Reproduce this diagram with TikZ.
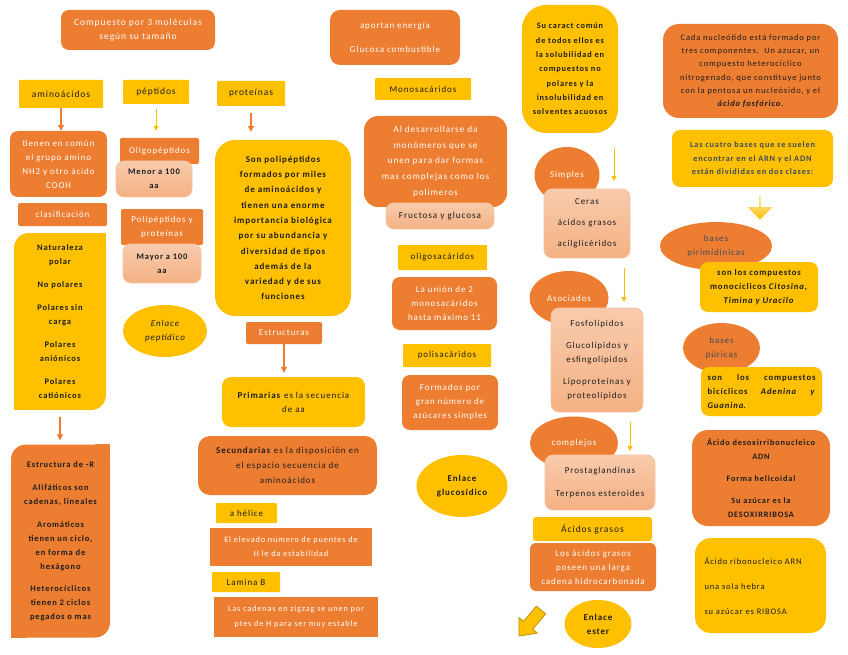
\documentclass[tikz,border=0pt]{standalone}
\usepackage{fontspec}
\setmainfont{Carlito}[LetterSpace=10]
\usetikzlibrary{positioning,arrows.meta,shapes.geometric,shapes.arrows}

\definecolor{naranja}{HTML}{ED7D31}
\definecolor{amarillo}{HTML}{FFC000}
\definecolor{salmon}{HTML}{F4B183}
\definecolor{salmonclaro}{HTML}{F8CBAD}
\definecolor{oscuro}{HTML}{1E1E1E}
\definecolor{pizarra}{HTML}{3E4B5C}
\definecolor{oro}{HTML}{BF9000}

\begin{document}
\begin{tikzpicture}[
    x=1pt, y=-1pt,
    font=\fontsize{9}{14}\selectfont,
    fnt/.style 2 args={font=\fontsize{#1}{#2}\selectfont},
    bfnt/.style 2 args={font=\fontsize{#1}{#2}\selectfont\bfseries},
    sz/.style 2 args={minimum width=#1, minimum height=#2},
    obox/.style={fill=naranja, text=white, rounded corners=8pt, align=center, inner sep=2pt},
    ybox/.style={fill=amarillo, text=oscuro, rounded corners=8pt, align=center, inner sep=2pt},
    sbox/.style={top color=salmonclaro, bottom color=salmon, draw=naranja!45, line width=0.8pt, rounded corners=8pt, align=center, text=oscuro, inner sep=2pt},
    tag/.style={fill=amarillo, text=oscuro, rounded corners=1pt, align=center, inner sep=2pt},
    otag/.style={fill=naranja, text=white, rounded corners=2pt, align=center, inner sep=2pt},
    bubble/.style={ellipse, fill=naranja, text=white, inner sep=0pt, align=center},
    oval/.style={ellipse, fill=amarillo, text=oscuro, inner sep=0pt, align=center},
    oarr/.style={-{Triangle[length=6pt,width=6pt]}, naranja, line width=1.3pt},
    yarr/.style={-{Triangle[length=5pt,width=5pt]}, amarillo, line width=1pt},
    bigarr/.style={single arrow, fill=amarillo, single arrow head extend=3pt, inner sep=0pt}
  ]
    \path[use as bounding box, fill=white] (0,0) rectangle (848,655);

    % aminoacidos
    \node[obox, sz={154}{40}, fnt={9.5}{14}] (comp) at (138,30) {Compuesto por 3 moléculas\\según su tamaño};
    \node[tag, sz={84}{28}, fnt={9.5}{14}] (amino) at (61,94) {aminoácidos};
    \node[obox, sz={97}{66}] (comun) at (58.5,164) {tienen en común\\el grupo amino\\NH2 y otro ácido\\COOH};
    \node[otag, sz={89}{23}] (clasif) at (62.5,214.5) {clasificación};
    \node[ybox, sz={92}{177}, rounded corners=15pt, bfnt={8.5}{14}] (polar) at (60,321.5) {Naturaleza\\polar\\[9pt]No polares\\[9pt]Polares sin\\carga\\[9pt]Polares\\aniónicos\\[9pt]Polares\\catiónicos};
    \fill[amarillo] (polar.north east) rectangle ++(-15,15);
    \fill[amarillo] (polar.south west) rectangle ++(15,-15);
    \node[obox, sz={99}{193}, text=oscuro, rounded corners=15pt, bfnt={8.5}{14}] (estR) at (60.5,541) {Estructura de -R\\[9pt]Alifáticos son\\cadenas, lineales\\[9pt]Aromáticos\\tienen un ciclo,\\en forma de\\hexágono\\[8pt]Heterocíclicos\\tienen 2 ciclos\\pegados o mas};
    \fill[naranja] (estR.north east) rectangle ++(-15,15);
    \fill[naranja] (estR.south west) rectangle ++(15,-15);

    % peptidos
    \node[tag, sz={66}{24}, fnt={9.5}{14}] (pept) at (156,92) {péptidos};
    \node[otag, sz={79}{26}] (oligo) at (159.5,151) {Oligopéptidos};
    \node[sbox, sz={76}{36}, bfnt={8.5}{14}] (menor) at (154,179) {Menor a 100\\aa};
    \node[otag, sz={82}{36}] (polip) at (162,227) {Polipéptidos y\\proteínas};
    \node[sbox, sz={78}{39}, bfnt={8.5}{14}] (mayor) at (162,263.5) {Mayor a 100\\aa};
    \node[oval, sz={84}{52}, font=\fontsize{9}{14}\selectfont\itshape] (enlpep) at (165,331) {Enlace\\peptídico};

    % proteinas
    \node[tag, sz={68}{25}, fnt={9.5}{14}] (prot) at (251,93.5) {proteínas};
    \node[ybox, sz={136}{176}, rounded corners=20pt, bfnt={9}{15.3}] (son) at (283,228) {Son polipéptidos\\formados por miles\\de aminoácidos y\\tienen una enorme\\importancia biológica\\por su abundancia y\\diversidad de tipos\\además de la\\variedad y de sus\\funciones};
    \node[otag, sz={76}{22}] (estruct) at (284,333) {Estructuras};
    \node[ybox, sz={143}{50}, rounded corners=9pt] (prim) at (293.5,402) {\textbf{Primarias} es la secuencia\\de aa};
    \node[obox, sz={179}{59}, text=oscuro, rounded corners=12pt, fnt={9}{15}] (secund) at (287.5,465.5) {\textbf{Secundarias} es la disposición en\\el espacio secuencia de\\aminoácidos};
    \node[tag, sz={61}{20}] (hel) at (246.5,513) {a hélice};
    \node[otag, rounded corners=0pt, sz={162}{38}, fnt={8.3}{14}] (elev) at (291,547) {El elevado numero de puentes de\\H le da estabilidad};
    \node[tag, sz={68}{20}] (lam) at (246,582) {Lamina B};
    \node[otag, rounded corners=0pt, sz={164}{40}, fnt={8.3}{15}] (cad) at (296,617) {Las cadenas en zigzag se unen por\\ptes de H para ser muy estable};

    % glucidos
    \node[obox, sz={130}{55}, rounded corners=10pt] (aport) at (395,37.5) {aportan energía\\[10pt]Glucosa combustible};
    \node[tag, sz={96}{22}] (mono) at (423,89) {Monosacáridos};
    \node[obox, sz={143}{91}, rounded corners=14pt, fnt={9.2}{15.8}] (desarr) at (435.5,161.5) {Al desarrollarse da\\monómeros que se\\unen para dar formas\\mas complejas como los\\polímeros};
    \node[sbox, sz={108}{26}, fnt={9.2}{14}] (fruct) at (440,216) {Fructosa y glucosa};
    \node[tag, sz={89}{25}] (oligos) at (442.5,257.5) {oligosacáridos};
    \node[obox, sz={105}{53}] (union) at (444.5,303.5) {La unión de 2\\monosacáridos\\hasta máximo 11};
    \node[tag, sz={88}{23}] (polis) at (447,355.5) {polisacáridos};
    \node[obox, sz={96}{55}] (formad) at (450,402.5) {Formados por\\gran número de\\azúcares simples};
    \node[oval, sz={91}{62}, bfnt={9}{14}] (enlgluc) at (462,486) {Enlace\\glucosídico};

    % lipidos
    \node[ybox, sz={96}{128}, rounded corners=24pt, bfnt={8.3}{14.3}] (sucar) at (570,69) {Su caract común\\de todos ellos es\\la solubilidad en\\compuestos no\\polares y la\\insolubilidad en\\solventes acuosos};
    \node[bubble, sz={65}{56}] (simp) at (567,175) {Simples};
    \node[sbox, sz={86}{69}, fnt={9}{21}] (ceras) at (587,223.5) {Ceras\\ácidos grasos\\acilglicéridos};
    \node[bubble, sz={79}{54}] (asoc) at (569,298) {Asociados};
    \node[sbox, sz={92}{104}] (fosfo) at (597,360) {Fosfolípidos\\[8pt]Glucolípidos y\\esfingolípidos\\[8pt]Lipoproteínas y\\proteolípidos};
    \node[bubble, sz={88}{53}] (compl) at (574,443) {complejos};
    \node[sbox, sz={110}{55}, fnt={9}{23}] (prosta) at (600,482.5) {Prostaglandinas\\Terpenos esteroides};
    \node[tag, sz={119}{24}, rounded corners=3pt, fnt={9.5}{14}] (acgras) at (592.5,529) {Ácidos grasos};
    \node[obox, sz={126}{48}, rounded corners=6pt] (larga) at (593,567) {Los ácidos grasos\\poseen una larga\\cadena hidrocarbonada};
    % flecha de bloque hacia abajo a la izquierda
    \filldraw[fill=amarillo, draw=oro, line width=0.8pt, line join=round] (536.4,606.1) -- (545.6,613.9) -- (532.7,629.2) -- (537.3,633.1) -- (519,636) -- (518.9,617.5) -- (523.5,621.4) -- cycle;
    \node[oval, sz={67}{48}, bfnt={9}{14}] (enlest) at (598,624) {Enlace\\ester};

    % acidos nucleicos
    \node[obox, sz={175}{94}, text=oscuro, rounded corners=16pt, fnt={8.5}{13.3}] (cada) at (750.5,71) {Cada nucleótido está formado por\\tres componentes.\ \ Un azucar, un\\compuesto heterocíclico\\nitrogenado, que constituye junto\\con la pentosa un nucleósido, y el\\\textbf{\textit{ácido fosfórico}}.};
    \node[ybox, sz={161}{57}, text=pizarra, bfnt={8.3}{13.5}] (cuatro) at (752.5,158.5) {Las cuatro bases que se suelen\\encontrar en el ARN y el ADN\\están divididas en dos clases:};
    \node[bigarr, shape border rotate=270, minimum height=24pt, minimum width=24pt, top color=amarillo!25, bottom color=amarillo] (flechaB) at (760,207) {};
    \node[bubble, sz={112}{48}, text=pizarra] (pirim) at (716,246) {bases\\pirimídinicas};
    \node[ybox, sz={118}{50}, bfnt={8.7}{14}] (monoc) at (759,287) {son los compuestos\\monocíclicos \textit{Citosina,}\\\textit{Timina y Uracilo}};
    \node[bubble, sz={77}{50}, text=pizarra] (puric) at (721.5,348) {bases\\púricas};
    \node[ybox, sz={121}{49}, align=left, text width=108pt, bfnt={8.7}{14}] (bicic) at (761.5,391.5) {son\hfill los\hfill compuestos\\bicíclicos\hfill \textit{Adenina}\hfill \textit{y}\\\textit{Guanina}.};
    \node[obox, sz={138}{96}, text=oscuro, rounded corners=16pt, bfnt={8.3}{14}] (adn) at (761,478) {Ácido desoxirribonucleico\\ADN\\[8pt]Forma helicoidal\\[8pt]Su azúcar es la\\DESOXIRRIBOSA};
    \node[ybox, sz={131}{95}, align=left, text width=112pt, rounded corners=16pt, fnt={8.5}{25}] (arn) at (760.5,585.5) {Ácido ribonucleico ARN\\una sola hebra\\su azúcar es RIBOSA};

    % flechas
    \draw[oarr] (amino.south) -- (amino.south |- comun.north);
    \draw[yarr, shorten <=5pt, shorten >=7pt] (pept.south) -- (pept.south |- oligo.north);
    \draw[oarr, shorten <=7pt, shorten >=8pt] (prot.south) -- (prot.south |- son.north);
    \draw[oarr, shorten <=7pt, shorten >=4pt] (polar.south) -- (polar.south |- estR.north);
    \draw[oarr, shorten >=4pt] (estruct.south) -- (estruct.south |- prim.north);
    \coordinate (a1) at (614,148); \coordinate (b1) at (614,181);
    \coordinate (a2) at (624,268); \coordinate (b2) at (624,302);
    \coordinate (a3) at (630,422); \coordinate (b3) at (630,451);
    \draw[yarr] (a1) -- (b1);
    \draw[yarr] (a2) -- (b2);
    \draw[yarr] (a3) -- (b3);
  \end{tikzpicture}
\end{document}
